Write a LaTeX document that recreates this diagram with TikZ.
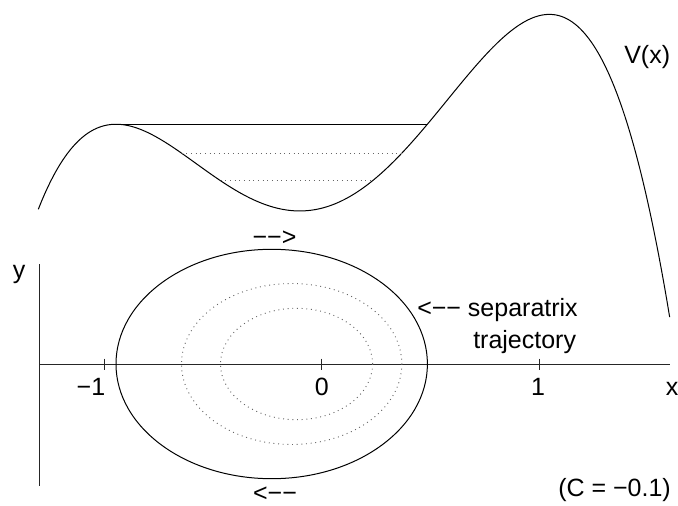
\documentclass[tikz,border=0pt]{standalone}
\usepackage{fontspec}
\setmainfont{Liberation Sans}
\begin{document}
\begin{tikzpicture}[x=0.75pt,y=-0.75pt,
  curve/.style={line width=0.75pt,black},
  axisline/.style={line width=0.75pt,black!85},
  dotcurve/.style={line width=0.7pt,black!60,dash pattern=on 0.7pt off 2.8pt},
  lbl/.style={inner sep=0pt,font=\fontsize{18.75}{22}\selectfont}]
\useasboundingbox (0,0) rectangle (678,506);
% potential V(x) = -x^4/4 + x^2/2 + 0.1x
\draw[curve] plot[domain=-1.303:1.601,samples=240,smooth]
  ({321.7+217.5*\x},{208.2-550*(-0.25*(\x)*(\x)*(\x)*(\x)+0.5*(\x)*(\x)+0.1*(\x))});
% energy levels
\coordinate (eL) at (116.0,124.3); \coordinate (eR) at (427.4,124.3);
\draw[curve] (eL) -- (eR);
\coordinate (d1L) at (181.5,153.2); \coordinate (d1R) at (401.8,153.2);
\draw[dotcurve] (d1L) -- (d1R);
\coordinate (d2L) at (220.5,180.7); \coordinate (d2R) at (372.6,180.7);
\draw[dotcurve] (d2L) -- (d2R);
% axes
\coordinate (xa0) at (39,364); \coordinate (xa1) at (670,364);
\coordinate (ya0) at (39,264); \coordinate (ya1) at (39,486);
\draw[axisline] (xa0) -- (xa1);
\draw[axisline] (ya0) -- (ya1);
\foreach \t in {104,321.7,539} \draw[axisline] (\t,358.5) -- (\t,369.5);
% phase trajectories
\draw[curve] (271.7,364) ellipse [x radius=155.7, y radius=114.7];
\draw[dotcurve] (291.65,364) ellipse [x radius=110.15, y radius=80.5];
\draw[dotcurve] (296.55,364) ellipse [x radius=76.05, y radius=55.7];
% labels
\node[lbl,anchor=base west] (vlab) at (624,63.3) {V(x)};
\node[lbl,anchor=base] (topar) at (274.5,245) {−−>};
\node[lbl,anchor=base] (botar) at (275,501.5) {<−−};
\node[lbl,anchor=base west] (sep) at (417,316.7) {<−− separatrix};
\node[lbl,anchor=base west] (traj) at (473,348) {trajectory};
\node[lbl,anchor=base] (xl) at (672,395) {x};
\node[lbl,anchor=base] (yl) at (19,278) {y};
\node[lbl,anchor=base] (tm1) at (91,395) {−1};
\node[lbl,anchor=base] (t0) at (321.7,395) {0};
\node[lbl,anchor=base] (t1) at (538,395) {1};
\node[lbl,anchor=base west] (cl) at (558,496.7) {(C = −0.1)};
\end{tikzpicture}
\end{document}
